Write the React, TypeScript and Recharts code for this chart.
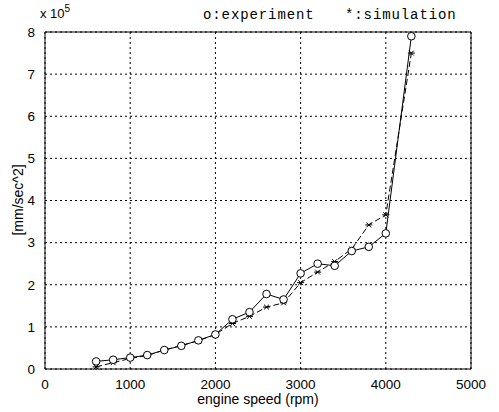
import React from "react";
import { CartesianGrid, Line, LineChart, ReferenceLine, XAxis, YAxis } from "recharts";

// engine speed (rpm) and measured / simulated acceleration (x 10^5 mm/sec^2)
const speeds = [600, 800, 1000, 1200, 1400, 1600, 1800, 2000, 2200, 2400, 2600, 2800, 3000, 3200, 3400, 3600, 3800, 4000, 4300];
const experiment = [0.18, 0.22, 0.27, 0.33, 0.45, 0.55, 0.68, 0.82, 1.18, 1.35, 1.78, 1.65, 2.27, 2.5, 2.45, 2.8, 2.9, 3.22, 7.9];
const simulation = [0.05, 0.15, 0.25, 0.32, 0.45, 0.56, 0.67, 0.82, 1.08, 1.25, 1.47, 1.57, 2.05, 2.3, 2.55, 2.85, 3.42, 3.66, 7.5];

const xTicks = [0, 1000, 2000, 3000, 4000, 5000];
const yTicks = [0, 1, 2, 3, 4, 5, 6, 7, 8];

const data = speeds.map((rpm, i) => ({ rpm, experiment: experiment[i], simulation: simulation[i] }));

const FONT = "'Liberation Sans', Arial, sans-serif";
const MONO = "'Liberation Mono', 'DejaVu Sans Mono', monospace";

const Circle = (props: any) => {
  const { cx, cy, index } = props;
  if (cx == null || cy == null) return <g key={index} />;
  return <circle key={index} cx={cx} cy={cy} r={3.8} fill="#fff" stroke="#000" strokeWidth={1} />;
};

const Star = (props: any) => {
  const { cx, cy, index } = props;
  if (cx == null || cy == null) return <g key={index} />;
  const r = 3.5;
  return (
    <g key={index} stroke="#000" strokeWidth={1}>
      <line x1={cx - r} y1={cy} x2={cx + r} y2={cy} />
      <line x1={cx - r * 0.7} y1={cy - r * 0.7} x2={cx + r * 0.7} y2={cy + r * 0.7} />
      <line x1={cx - r * 0.7} y1={cy + r * 0.7} x2={cx + r * 0.7} y2={cy - r * 0.7} />
    </g>
  );
};

export default function App() {
  return (
    <div style={{ position: "fixed", left: 0, top: 0, width: 499, height: 412, background: "#fff" }}>
      <LineChart
        width={499}
        height={412}
        data={data}
        margin={{ top: 32, right: 28, bottom: 23, left: 15 }}
      >
        <CartesianGrid stroke="#000" strokeDasharray="2 3" strokeWidth={1} />
        <XAxis
          dataKey="rpm"
          type="number"
          domain={[0, 5000]}
          ticks={xTicks}
          height={20}
          stroke="#000"
          tickLine={false}
          tick={{ fill: "#000", fontSize: 13.5, fontFamily: FONT }}
          tickMargin={4}
          interval={0}
        />
        <YAxis
          type="number"
          domain={[0, 8]}
          ticks={yTicks}
          width={30}
          stroke="#000"
          tickLine={false}
          tick={{ fill: "#000", fontSize: 13.5, fontFamily: FONT }}
          tickMargin={4}
          interval={0}
        />
        <ReferenceLine y={8} stroke="#000" />
        <ReferenceLine x={5000} stroke="#000" />
        <Line
          dataKey="simulation"
          stroke="#000"
          strokeWidth={1}
          strokeDasharray="6 3"
          dot={Star}
          isAnimationActive={false}
        />
        <Line
          dataKey="experiment"
          stroke="#000"
          strokeWidth={1}
          dot={Circle}
          isAnimationActive={false}
        />
        <text x={40} y={18} fontSize={13} fontFamily={FONT} fill="#000">
          x 10
          <tspan fontSize={10} dy={-6}>5</tspan>
        </text>
        <text x={203} y={19} fontSize={14} letterSpacing={0.9} fontFamily={MONO} fill="#000">o:experiment</text>
        <text x={345} y={19} fontSize={14} letterSpacing={0.9} fontFamily={MONO} fill="#000">*:simulation</text>
        <text x={258} y={404} fontSize={14} fontFamily={FONT} fill="#000" textAnchor="middle">
          engine speed (rpm)
        </text>
        <text
          x={23}
          y={200}
          fontSize={14}
          fontFamily={FONT}
          fill="#000"
          textAnchor="middle"
          transform="rotate(-90 23 200)"
        >
          [mm/sec^2]
        </text>
      </LineChart>
    </div>
  );
}
